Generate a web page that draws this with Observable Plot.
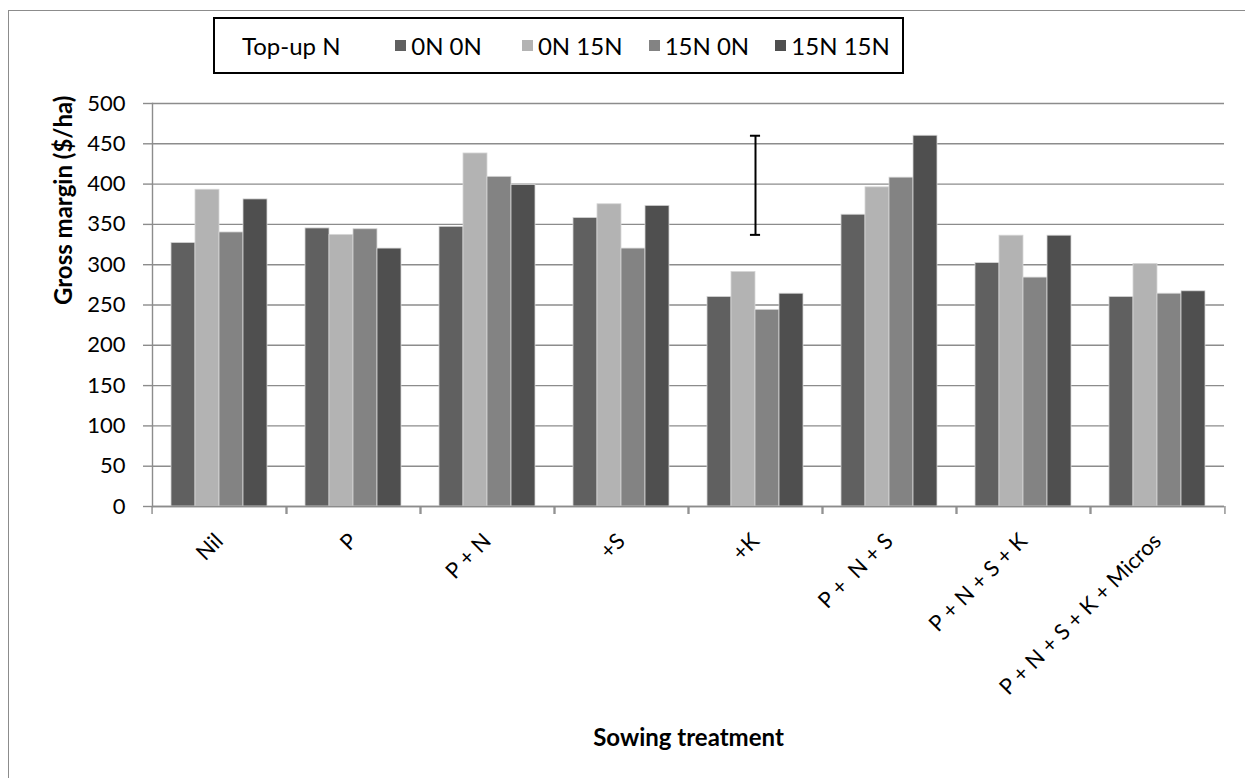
<!DOCTYPE html>
<html>
<head>
<meta charset="utf-8">
<script src="https://cdn.jsdelivr.net/npm/d3@7"></script>
<script src="https://cdn.jsdelivr.net/npm/@observablehq/plot@0.6"></script>
<style>
  html, body { margin: 0; padding: 0; background: #fff; }
  #wrap { position: relative; width: 1245px; height: 778px; overflow: hidden; font-family: Lato, "Open Sans", sans-serif; }
  #wrap svg text { white-space: pre; }
  #frame { position: absolute; left: 8px; top: 10px; width: 1300px; height: 900px; border: 1.5px solid #8c8c8c; box-sizing: border-box; }
  #legend { position: absolute; left: 213px; top: 17px; width: 691px; height: 57px; border: 2px solid #000; box-sizing: border-box; background: #fff;
            display: flex; align-items: center; font-size: 24px; color: #000; white-space: nowrap; }
  #legend .title { width: 183px; padding-left: 27px; box-sizing: border-box; }
  #legend .item { display: flex; align-items: center; width: 129px; }
  #legend .sw { width: 11px; height: 11px; margin-right: 5px; flex: none; }
</style>
</head>
<body>
<div id="wrap">
  <div id="frame"></div>
  <div id="chart"></div>
  <div id="legend"></div>
</div>
<script>
// ---- data ----
const categories = ["Nil", "P", "P + N", "+S", "+K", "P +  N + S", "P + N + S + K", "P + N + S + K + Micros"];
const series = ["0N 0N", "0N 15N", "15N 0N", "15N 15N"];
const values_0N0N   = [327, 345, 347, 358, 260, 362, 302, 260];
const values_0N15N  = [393, 337, 438, 375, 291, 396, 336, 301];
const values_15N0N  = [340, 344, 409, 320, 244, 408, 284, 264];
const values_15N15N = [381, 320, 399, 373, 264, 460, 336, 267];
const yTicks = [0, 50, 100, 150, 200, 250, 300, 350, 400, 450, 500];
const errorBar = [{category: "+K", low: 337, high: 460}];
const legendTitle = "Top-up N";
const yTitle = "Gross margin ($/ha)";
const xTitle = "Sowing treatment";

const seriesColors = ["#606060", "#b3b3b3", "#838383", "#4f4f4f"];

const seriesValues = [values_0N0N, values_0N15N, values_15N0N, values_15N15N];
const table = [];
categories.forEach((c, i) => series.forEach((s, j) => table.push({category: c, series: s, value: seriesValues[j][i]})));

const W = 1245, H = 778, mL = 148, mR = 18, mT = 103, mB = 272;
const halfStep = (W - mL - mR) / categories.length / 2;
const grey = "#8c8c8c";

const chart = Plot.plot({
  width: W, height: H,
  marginLeft: mL, marginRight: mR, marginTop: mT, marginBottom: mB,
  style: {fontFamily: "Lato, 'Open Sans', sans-serif", fontSize: "22px", color: "#000", background: "transparent", overflow: "visible"},
  fx: {domain: categories, padding: 0, label: null},
  x: {domain: series, paddingInner: 0, paddingOuter: 0.7625, axis: null},
  y: {domain: [0, 500], label: null},
  color: {domain: series, range: seriesColors},
  marks: [
    Plot.gridY(yTicks, {stroke: grey, strokeOpacity: 1, strokeWidth: 1.4}),
    Plot.barY(table, {fx: "category", x: "series", y: "value", fill: "series", stroke: "#d6d6d6", strokeWidth: 0.8}),
    Plot.ruleY([0], {stroke: grey, strokeWidth: 1.4}),
    Plot.frame({anchor: "left", facetAnchor: "left", stroke: grey, strokeWidth: 1.4}),
    Plot.axisY(yTicks, {tickSize: 9, fill: "none", stroke: grey, strokeWidth: 1.4, label: null}),
    Plot.axisY(yTicks, {tickSize: 0, tickPadding: 27, fontSize: 22, fill: "#000", label: null}),
    Plot.axisFx({anchor: "bottom", tickSize: 8, dx: -halfStep, fill: "none", stroke: grey, strokeWidth: 1.4, label: null}),
    Plot.axisFx([categories[categories.length - 1]], {anchor: "bottom", tickSize: 8, dx: halfStep, fill: "none", stroke: grey, strokeWidth: 1.4, label: null}),
    Plot.axisFx({anchor: "bottom", tickSize: 0, tickPadding: 31, tickRotate: -45, fontSize: 22, fill: "#000", label: null}),
    Plot.ruleX(errorBar, {fx: "category", x: null, y1: "low", y2: "high", stroke: "#000", strokeWidth: 2}),
    Plot.tickY(errorBar, {fx: "category", y: "low", stroke: "#000", strokeWidth: 2, insetLeft: halfStep - 5.5, insetRight: halfStep - 5.5}),
    Plot.tickY(errorBar, {fx: "category", y: "high", stroke: "#000", strokeWidth: 2, insetLeft: halfStep - 5.5, insetRight: halfStep - 5.5}),
    Plot.text([yTitle], {fx: () => categories[0], frameAnchor: "left", rotate: -90, dx: -88, fontWeight: "bold", fontSize: 24, fill: "#000"}),
    Plot.text([xTitle], {fx: () => categories[4], frameAnchor: "bottom-left", dy: 239, textAnchor: "middle", fontWeight: "bold", fontSize: 24, fill: "#000"})
  ]
});
document.getElementById("chart").appendChild(chart);

// legend
const legend = document.getElementById("legend");
const t = document.createElement("span");
t.className = "title"; t.textContent = legendTitle;
legend.appendChild(t);
series.forEach((s, i) => {
  const item = document.createElement("span");
  item.className = "item";
  const sw = document.createElement("span");
  sw.className = "sw"; sw.style.background = seriesColors[i];
  const lb = document.createElement("span");
  lb.textContent = s;
  item.appendChild(sw); item.appendChild(lb);
  legend.appendChild(item);
});
</script>
</body>
</html>
